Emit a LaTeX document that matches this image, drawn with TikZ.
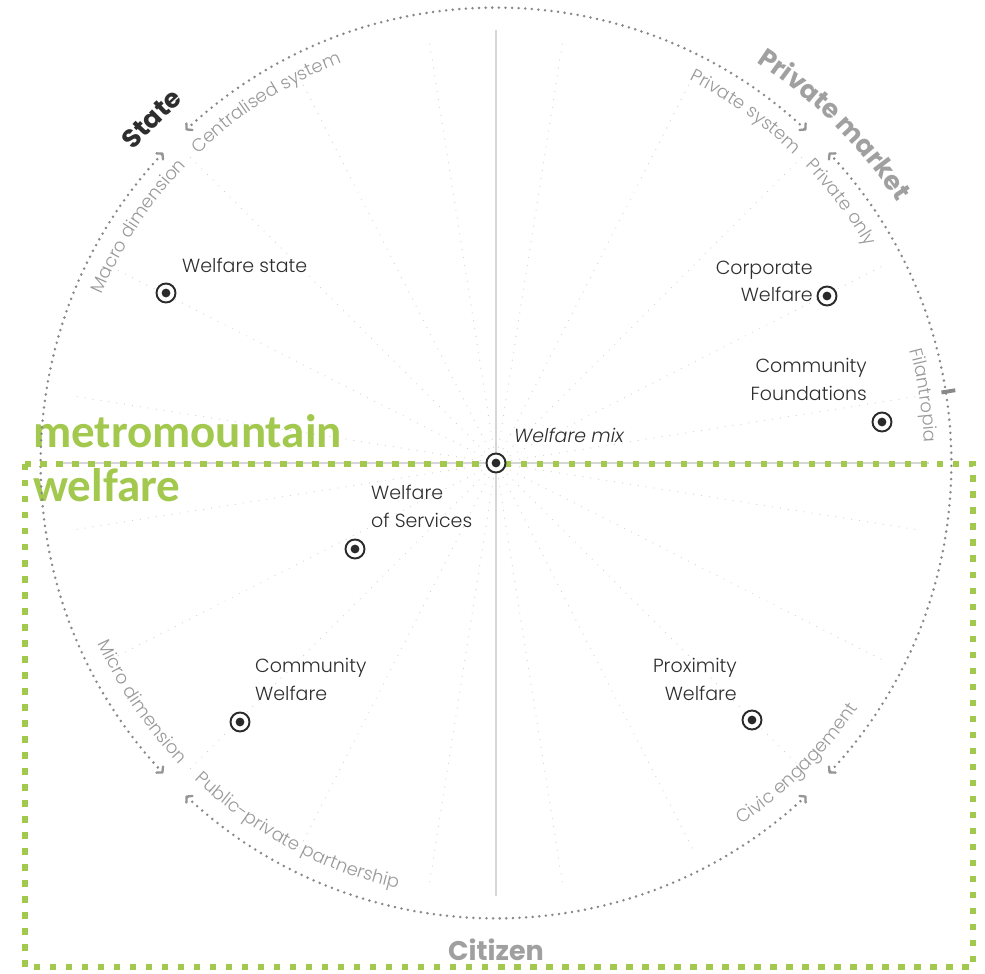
\documentclass[tikz,border=0pt]{standalone}
\usepackage{fontspec}
\usetikzlibrary{arrows.meta,decorations.text}
\IfFontExistsTF{Poppins Light}
 {\newfontfamily\lt{Poppins Light}\newfontfamily\ltit{Poppins Light}[FakeSlant=0.18]}
 {\newfontfamily\lt{Poppins}\newfontfamily\ltit{Poppins}[FakeSlant=0.18]}
\newfontfamily\hv{Poppins}
\newfontfamily\carl{Carlito}
\definecolor{dotgray}{HTML}{888888}
\definecolor{tipgray}{HTML}{959595}
\definecolor{radgray}{HTML}{D2D2D2}
\definecolor{axgray}{HTML}{D6D6D6}
\definecolor{arcgray}{HTML}{999999}
\definecolor{ink}{HTML}{2E2E2E}
\definecolor{mk}{HTML}{2A2A2A}
\definecolor{lime}{HTML}{A2C84E}
\definecolor{boldgray}{HTML}{A0A0A0}
\newcommand\arcfont{\lt\fontsize{18}{20}\selectfont\color{arcgray}}
\newcommand\statefont{\hv\bfseries\fontsize{26}{28}\selectfont\color{ink}}
\newcommand\pmfont{\hv\bfseries\fontsize{26}{28}\selectfont\color{boldgray}}
\tikzset{
  cb/.tip={Straight Barb[length=4pt,width=9pt,line width=2.3pt,round,color=tipgray]},
  circ/.style={draw=dotgray, line width=2.8pt, line cap=round, dash pattern=on 0pt off 6.6pt, cb-cb},
  radial/.style={draw=radgray, line width=1.2pt, line cap=round, dash pattern=on 0pt off 8pt},
  axisline/.style={draw=axgray, line width=1.4pt},
  greenbox/.style={draw=lime, line width=6.5pt, dash pattern=on 6.5pt off 9.5pt},
  dotmark/.style={circle, draw=mk, line width=1.9pt, fill=white, minimum size=19pt, inner sep=0pt,
    path picture={\fill[mk] (path picture bounding box.center) circle[radius=4.4pt];}},
  lbl/.style={font=\lt\fontsize{19}{22}\selectfont, text=ink, inner sep=0pt},
  green text/.style={font=\carl\bfseries\fontsize{47}{50}\selectfont, text=lime, inner sep=0pt},
}
\begin{document}
\begin{tikzpicture}[x=1pt,y=1pt]
\useasboundingbox (-496,-511) rectangle (489,463);
\fill[white] (-496,-511) rectangle (489,463);

% radial dotted guide lines
\foreach \a in {9,27,...,351} \draw[radial] (\a:16pt) -- (\a:432pt);
% axes
\draw[axisline] (0,433) -- (0,-433);
\draw[axisline] (-433,0) -- (433,0);

% green title
\node[green text, anchor=base west] (mm1) at (-463,15) {metromountain};
\node[green text, anchor=base west] (mm2) at (-463,-39) {welfare};

% outer dotted circle in four arcs with arrowheads
\draw[circ] (47:455pt) arc[start angle=47, end angle=133, radius=455pt];
\draw[circ] (137:455pt) arc[start angle=137, end angle=223, radius=455pt];
\draw[circ] (227:455pt) arc[start angle=227, end angle=313, radius=455pt];
\draw[circ] (317:455pt) arc[start angle=317, end angle=403, radius=455pt];
% filantropia tick
\draw[draw=dotgray, line width=3.8pt] (9:451pt) -- (9:465pt);

% green dashed frame
\draw[greenbox] (-471,-1) rectangle (477,-504);

% arc labels
\path[decorate, decoration={text along path, text align=center, text={|\arcfont|Centralised system}}]
  (142.5:429pt) arc[start angle=142.5, end angle=102.5, radius=429pt];
\path[decorate, decoration={text along path, text align=center, text={|\arcfont|Macro dimension}}]
  (166.5:429pt) arc[start angle=166.5, end angle=126.5, radius=429pt];
\path[decorate, decoration={text along path, text align=center, text={|\arcfont|Private system}}]
  (74.6:429pt) arc[start angle=74.6, end angle=34.6, radius=429pt];
\path[decorate, decoration={text along path, text align=center, text={|\arcfont|Private only}}]
  (57:429pt) arc[start angle=57, end angle=17, radius=429pt];
\path[decorate, decoration={text along path, text align=center, text={|\arcfont|Filantropia}}]
  (29:429pt) arc[start angle=29, end angle=-11, radius=429pt];
\path[decorate, decoration={text along path, text align=center, text={|\arcfont|Micro dimension}}]
  (194:437pt) arc[start angle=194, end angle=234, radius=437pt];
\path[decorate, decoration={text along path, text align=center, text={|\arcfont|Public-private partnership}}]
  (216.7:437pt) arc[start angle=216.7, end angle=266.7, radius=437pt];
\path[decorate, decoration={text along path, text align=center, text={|\arcfont|Civic engagement}}]
  (295:437pt) arc[start angle=295, end angle=335, radius=437pt];

% bold pole labels
\path[decorate, decoration={text along path, text align=center, text={|\statefont|State}}]
  (155:478pt) arc[start angle=155, end angle=115, radius=478pt];
\path[decorate, decoration={text along path, text align=center, text={|\pmfont|Private market}}]
  (70:478pt) arc[start angle=70, end angle=20, radius=478pt];
\node[anchor=base, inner sep=0pt, font=\hv\bfseries\fontsize{27}{29}\selectfont, text=boldgray] (citizen) at (0,-497) {Citizen};

% markers
\node[dotmark] (mws) at (-330,170) {};
\node[dotmark] (mcw) at (331,167) {};
\node[dotmark] (mcf) at (386,41) {};
\node[dotmark] (mwm) at (0,0) {};
\node[dotmark] (mwos) at (-141,-86) {};
\node[dotmark] (mcom) at (-256,-259) {};
\node[dotmark] (mpw) at (256,-257) {};

% labels
\node[lbl, anchor=base west] (tws) at (-314,190) {Welfare state};
\node[lbl, anchor=base east] (tcw1) at (317,188) {Corporate};
\node[lbl, anchor=base east] (tcw2) at (317,161) {Welfare};
\node[lbl, anchor=base east] (tcf1) at (371,90) {Community};
\node[lbl, anchor=base east] (tcf2) at (371,62) {Foundations};
\node[lbl, anchor=base west, font=\ltit\fontsize{19}{22}\selectfont] (twm) at (17,20) {Welfare mix};
\node[lbl, anchor=base west] (tws1) at (-125,-37) {Welfare};
\node[lbl, anchor=base west] (tws2) at (-125,-65) {of Services};
\node[lbl, anchor=base west] (tcm1) at (-241,-209) {Community};
\node[lbl, anchor=base west] (tcm2) at (-241,-237) {Welfare};
\node[lbl, anchor=base east] (tpw1) at (241,-209) {Proximity};
\node[lbl, anchor=base east] (tpw2) at (241,-237) {Welfare};
\end{tikzpicture}
\end{document}
